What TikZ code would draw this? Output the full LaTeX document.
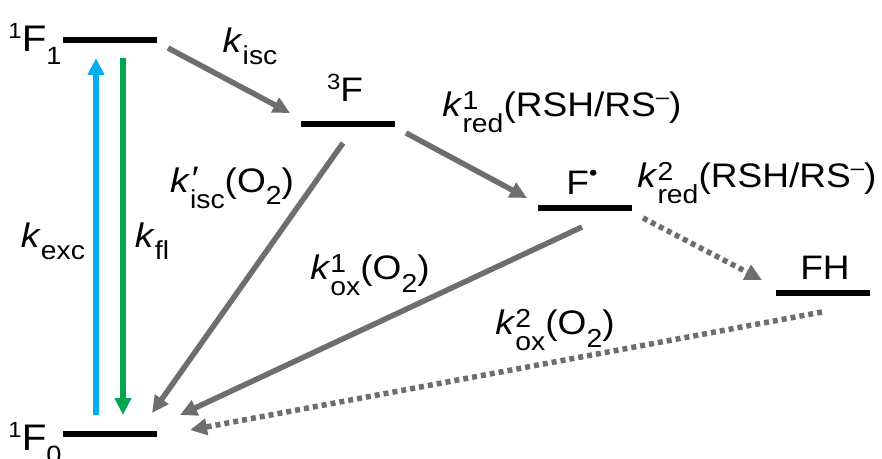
\documentclass[tikz,border=0pt]{standalone}
\usepackage{fontspec}
\setmainfont{Liberation Sans}[FakeStretch=1.09]
\usetikzlibrary{arrows.meta}
\definecolor{arrgray}{RGB}{110,110,112}
\definecolor{excblue}{RGB}{0,174,239}
\definecolor{flgreen}{RGB}{0,166,81}
\newcommand{\subsz}{\fontsize{13}{13}\selectfont}
\newcommand{\ratek}[1]{\textit{k}\raisebox{-6pt}{\subsz #1}}
\newcommand{\ratekk}[2]{\textit{k}\rlap{\raisebox{3.5pt}{\subsz #1}}\raisebox{-8pt}{\subsz #2}}
\newcommand{\oxy}{(O\raisebox{-6pt}{\subsz 2})}
\newcommand{\rsh}{(RSH/RS\raisebox{6pt}{\fontsize{11}{11}\selectfont\textendash})}
\newcommand{\lev}[1]{\raisebox{6.5pt}{\fontsize{11}{11}\selectfont 1}F\raisebox{-6.5pt}{\fontsize{12.5}{12.5}\selectfont #1}}
\begin{document}
\begin{tikzpicture}[x=0.5pt,y=-0.5pt,
  font=\fontsize{17}{20}\selectfont,
  level/.style={fill=black, inner sep=0pt, minimum height=3.2pt, minimum width=47pt},
  tip/.style={-{Triangle[length=8.5pt,width=8pt]}},
  rate/.style={draw=arrgray, line width=2.75pt, tip},
  dotrate/.style={rate, dash pattern=on 2.5pt off 2pt},
  lbl/.style={anchor=base, inner sep=0pt},
  levlbl/.style={anchor=base east, inner sep=0pt, font=\fontsize{18.5}{22}\selectfont}]
\useasboundingbox (0,0) rectangle (882,459);
% levels
\node[level] (S1) at (110,40) {};
\node[level] (T) at (347.5,124) {};
\node[level] (R) at (585,208) {};
\node[level] (FH) at (822.5,293) {};
\node[level] (S0) at (110,434) {};
% level labels
\node[levlbl] (S1l) at (62,52) {\lev{1}};
\node[levlbl] (S0l) at (62,450) {\lev{0}};
\node[lbl] (Tl) at (345,102) {\raisebox{6pt}{\fontsize{11}{11}\selectfont 3}F};
\node[lbl] (Rl) at (582,195) {F\raisebox{7pt}{\fontsize{11}{11}\selectfont\textbullet}};
\node[lbl] (FHl) at (825,280) {FH};
% connector end points
\coordinate (excA) at (96,415);  \coordinate (excB) at (96,58);
\coordinate (flA) at (123,58);   \coordinate (flB) at (123,415);
\coordinate (iscA) at (168,48);  \coordinate (iscB) at (290,113);
\coordinate (redA) at (406,133); \coordinate (redB) at (527,198);
\coordinate (iscpA) at (343,143); \coordinate (iscpB) at (152,413);
\coordinate (oxA) at (582,227);  \coordinate (oxB) at (180,415);
\coordinate (redtA) at (643,218); \coordinate (redtB) at (762,280);
\coordinate (oxtA) at (822,312); \coordinate (oxtB) at (190,430);
% connectors
\draw[excblue, line width=2.6pt, tip] (excA) -- (excB);
\draw[flgreen, line width=2.6pt, tip] (flA) -- (flB);
\draw[rate] (iscA) -- (iscB);
\draw[rate] (redA) -- (redB);
\draw[rate] (iscpA) -- (iscpB);
\draw[rate] (oxA) -- (oxB);
\draw[dotrate] (redtA) -- (redtB);
\draw[dotrate] (oxtA) -- (oxtB);
% rate labels
\node[lbl] (kexc) at (53,248) {\ratek{exc}};
\node[lbl] (kfl) at (152,248) {\ratek{fl}};
\node[lbl] (kisc) at (250,53) {\ratek{isc}};
\node[lbl] (kiscp) at (232,193) {\textit{k}\rlap{\raisebox{1pt}{\textit{′}}}\raisebox{-8pt}{\subsz isc}\oxy};
\node[lbl] (kred1) at (562,117) {\ratekk{1}{red}\rsh};
\node[lbl] (kred2) at (757,188) {\ratekk{2}{red}\rsh};
\node[lbl] (kox1) at (370,280) {\ratekk{1}{ox}\oxy};
\node[lbl] (kox2) at (555,335) {\ratekk{2}{ox}\oxy};
\end{tikzpicture}
\end{document}
